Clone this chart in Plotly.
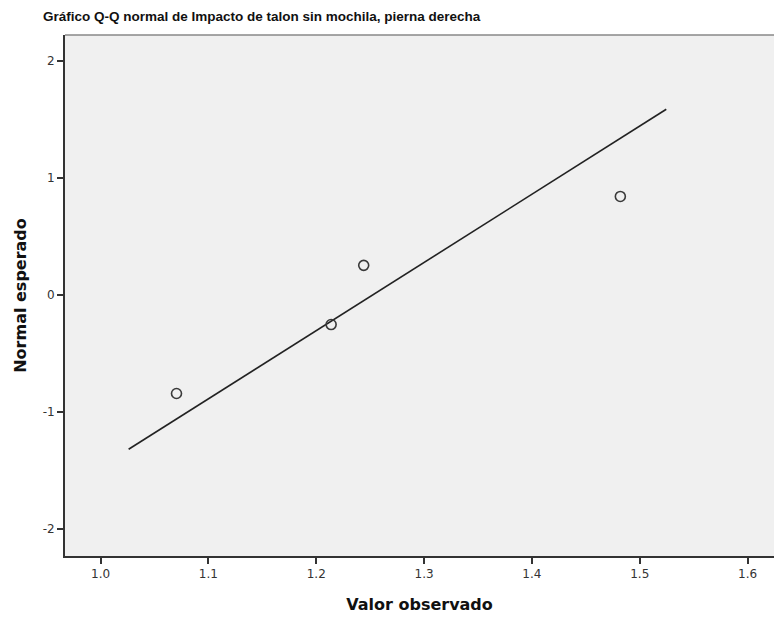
import plotly.graph_objects as go

# Data
observed = [1.0704, 1.2138, 1.2440, 1.4820]
expected_normal = [-0.842, -0.253, 0.253, 0.842]
line_x = [1.026, 1.5246]
line_y = [-1.319, 1.587]
x_ticks = [1.0, 1.1, 1.2, 1.3, 1.4, 1.5, 1.6]
x_tick_labels = ["1.0", "1.1", "1.2", "1.3", "1.4", "1.5", "1.6"]
y_ticks = [-2, -1, 0, 1, 2]
y_tick_labels = ["-2", "-1", "0", "1", "2"]

title = "Gráfico Q-Q normal de Impacto de talon sin mochila, pierna derecha"

fig = go.Figure()
fig.add_trace(go.Scatter(x=line_x, y=line_y, mode="lines",
                         line=dict(color="#222222", width=1.6), hoverinfo="skip"))
fig.add_trace(go.Scatter(x=observed, y=expected_normal, mode="markers",
                         marker=dict(symbol="circle-open", size=10, color="#3a3a3a",
                                     line=dict(color="#3a3a3a", width=1.6))))

fig.update_layout(
    width=774, height=618,
    margin=dict(l=65, r=0, t=35, b=62),
    paper_bgcolor="white",
    plot_bgcolor="#f0f0f0",
    showlegend=False,
    title=dict(text="<b>" + title + "</b>", x=43/774, xanchor="left",
               y=1 - 16/618, yanchor="middle",
               font=dict(family="Liberation Sans, Arial, sans-serif", size=13.5, color="#111111")),
    font=dict(family="DejaVu Sans, sans-serif", size=11, color="#333333"),
)
axis_title_font = dict(family="DejaVu Sans, sans-serif", size=16, color="#111111")
fig.update_xaxes(
    range=[0.967, 1.6245], tickvals=x_ticks, ticktext=x_tick_labels,
    showgrid=False, zeroline=False, showline=True, linecolor="#333333", linewidth=2,
    ticks="outside", ticklen=6, tickwidth=1.5, tickcolor="#333333",
    tickfont=dict(size=12, color="#333333"),
    title=dict(text="<b>Valor observado</b>", standoff=18, font=axis_title_font),
)
fig.update_yaxes(
    range=[-2.231, 2.222], tickvals=y_ticks, ticktext=y_tick_labels,
    showgrid=False, zeroline=False, showline=True, linecolor="#333333", linewidth=2,
    ticks="outside", ticklen=6, tickwidth=1.5, tickcolor="#333333",
    tickfont=dict(size=12, color="#333333"),
    title=dict(text="<b>Normal esperado</b>", standoff=12, font=axis_title_font),
)
fig.add_shape(type="line", xref="paper", yref="paper", x0=0, x1=1, y0=1, y1=1,
              line=dict(color="#888888", width=1.5))

fig.write_html("out.html")
